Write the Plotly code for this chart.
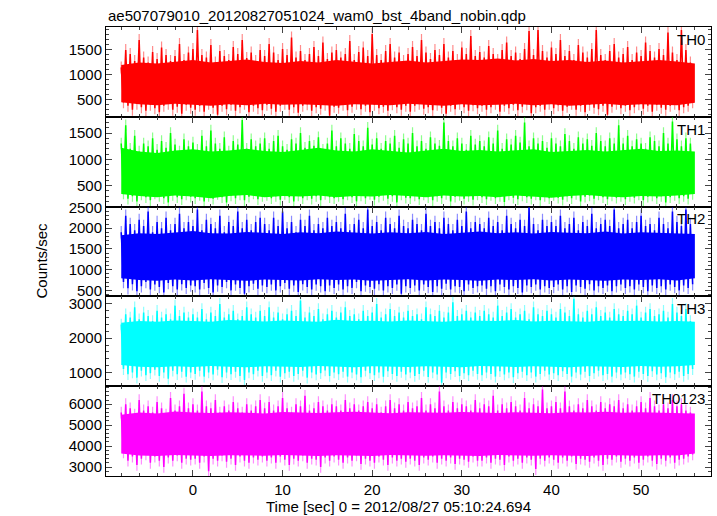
import numpy as np
import plotly.graph_objects as go
from plotly.subplots import make_subplots

TITLE = "ae507079010_20120827051024_wam0_bst_4band_nobin.qdp"
X_LABEL = "Time [sec] 0 = 2012/08/27 05:10:24.694"
Y_LABEL = "Counts/sec"
BANDS = ["TH0", "TH1", "TH2", "TH3", "TH0123"]
TIME_START = -8.0     # first time bin [sec]
SAMPLE_STEP = 0.25    # spacing of the read-off peak/dip samples [sec]
CORE_STEP = 2.0       # spacing of the read-off dense-band edges [sec]

# Read-off values, alternating local peaks and local dips every 0.5 s
th0_peak = [1150,1500,1420,1280,1700,1350,1250,1460,1320,1550,1400,1280,1380,1620,1300,1450,
            1520,1900,1400,1350,1600,1250,1480,1380,1300,1560,1420,1700,1340,1450,1280,1500,
            1380,1620,1450,1300,1520,1400,1750,1350,1480,1300,1420,1560,1380,1650,1320,1450,
            1500,1350,1420,1680,1300,1460,1550,1380,1820,1400,1300,1480,1620,1350,1450,1280,
            1420,1560,1380,1700,1450,1320,1500,1400,1620,1350,1480,1300,1550,1420,1780,1380,
            1460,1350,1580,1420,1300,1500,1650,1380,1450,1320,1520,1880,1400,1900,1480,1350,
            1550,1420,1700,1380,1480,1300,1600,1450,1350,1520,1900,1400,1300,1480,1620,1350,
            1420,1560,1300,1450,1380,1650,1480,1350,1520,1400,1850,1450,1300,1900,1500,1250]
th0_dip = [450,380,300,420,350,280,400,330,250,380,420,300,360,220,400,340,
           300,380,260,420,340,200,380,310,400,280,350,420,250,380,330,290,
           400,320,260,380,420,300,350,240,380,410,280,350,320,400,180,360,
           340,400,290,360,420,310,380,250,400,330,360,280,410,350,300,380,
           260,380,420,320,350,290,400,340,220,380,310,420,350,280,390,330,
           380,300,350,420,260,380,330,400,290,360,410,230,350,380,300,420,
           330,390,280,360,420,300,380,250,400,340,310,380,200,360,420,330,
           380,290,350,410,320,380,260,400,340,300,380,420,290,350,380,450]

th1_peak = [1300,1650,1200,1450,1150,1300,1250,1400,1180,1350,1220,1500,1280,1150,1380,1250,
            1320,1180,1450,1250,1550,1300,1200,1420,1150,1350,1280,1750,1200,1380,1250,1300,
            1400,1200,1350,1450,1250,1180,1380,1300,1500,1220,1350,1260,1420,1180,1300,1550,
            1250,1400,1300,1200,1480,1350,1250,1600,1280,1400,1200,1350,1300,1450,1220,1380,
            1300,1500,1250,1350,1200,1420,1300,1260,1700,1350,1250,1400,1300,1180,1450,1280,
            1350,1250,1420,1300,1550,1200,1380,1280,1450,1320,1700,1250,1400,1300,1350,1220,
            1400,1300,1250,1480,1350,1200,1420,1300,1380,1260,1500,1350,1250,1400,1300,1650,
            1300,1450,1250,1380,1300,1200,1420,1350,1250,1500,1300,1720,1380,1250,1400,1300]
th1_dip = [350,250,300,200,330,280,220,350,300,260,180,320,280,240,330,290,
           260,320,200,300,250,340,280,180,310,260,330,220,290,350,240,300,
           320,260,300,230,340,280,200,310,260,330,250,300,220,340,280,260,
           300,240,330,280,200,310,260,340,230,290,320,250,300,180,330,270,
           260,310,240,330,280,220,300,260,340,200,290,320,250,300,230,330,
           280,240,320,260,300,190,330,270,240,310,280,250,330,220,300,260,
           320,270,230,300,260,340,200,290,310,250,330,280,240,310,270,300,
           240,300,270,330,220,290,310,260,300,180,280,320,260,300,250,340]

th2_peak = [1900,2300,2100,1950,2200,2050,2400,1900,2150,2000,2250,1950,2100,2350,2000,2150,
            2050,2450,1950,2200,2100,2000,2300,1900,2150,2050,2400,2000,2200,1950,2150,2250,
            2100,1950,2250,2050,2400,2000,2150,1900,2200,2050,2300,1950,2100,2000,2250,2050,
            2150,2000,2350,1950,2100,2200,2000,2450,2050,2150,1950,2250,2100,2000,2300,2050,
            2000,2200,2100,1950,2350,2050,2150,2000,2250,2100,1950,2200,2050,2400,2000,2150,
            2100,2000,2250,2050,2150,1950,2300,2100,2000,2200,2050,2500,2100,1950,2200,2050,
            2150,2050,2300,2000,2100,2250,1950,2150,2050,2350,2000,2100,2200,2050,2450,2000,
            2100,2200,2000,2150,2300,2050,2100,1950,2250,2100,2000,2400,2150,2050,2450,2100]
th2_dip = [700,550,650,480,600,700,520,640,580,450,680,600,520,650,560,620,
           600,520,680,560,450,620,580,700,500,640,560,420,600,660,540,620,
           580,640,500,600,680,540,620,460,650,580,520,640,600,480,620,560,
           640,520,600,560,700,480,620,580,540,650,500,600,560,640,420,600,
           560,620,500,640,580,460,600,540,660,520,600,580,480,640,560,600,
           620,540,600,480,640,580,520,600,560,450,620,580,640,520,600,560,
           580,640,520,600,460,620,580,540,650,500,600,560,620,480,600,640,
           560,600,520,640,580,480,620,560,600,520,640,580,500,620,560,650]

th3_peak = [2400,2700,2600,2900,2550,2750,2650,2500,2800,2600,2700,2550,2950,2650,2750,2600,
            2700,2600,2850,2550,2750,2650,3000,2600,2700,2800,2550,2650,2900,2700,2600,2800,
            2650,2900,2600,2750,2550,2700,2800,2650,3100,2600,2750,2650,2850,2550,2700,2800,
            2600,2750,2900,2650,2700,2550,2800,2650,2750,3000,2600,2700,2850,2650,2750,2600,
            2800,2650,2700,2550,2900,2700,2650,2800,2600,2750,3050,2650,2700,2800,2600,2750,
            2650,2800,2700,2600,2950,2650,2750,2850,2600,2700,2800,2550,2900,2700,2650,2800,
            2700,2600,2850,2750,2650,3150,2700,2600,2800,2700,2900,2650,2750,2600,2850,2700,
            2650,2800,2700,2950,2600,2750,2850,2650,2700,2800,2600,3000,2750,2650,2850,2500]
th3_dip = [1100,950,1000,850,1050,920,980,1080,900,1000,820,1050,950,1020,880,1000,
           960,1050,880,1000,940,1080,860,1000,950,1020,900,780,1000,950,1050,900,
           1000,920,1050,880,980,1020,900,960,1050,850,1000,940,980,1060,900,1000,
           950,1020,880,1000,940,860,1050,980,920,1000,880,1040,960,900,1020,940,
           1000,900,960,1050,870,1000,940,700,1000,960,1040,900,980,920,1050,960,
           920,1000,960,880,1040,940,1000,860,980,1020,920,1000,880,960,1050,940,
           980,920,1040,960,880,1000,940,1020,900,980,1050,920,960,880,1000,940,
           1000,950,880,1020,960,900,1040,940,980,860,1000,950,1020,900,960,1100]

th0123_peak = [5600,6000,5800,5500,6200,5700,5900,5600,6100,5800,5500,6300,5700,5900,6500,5800,
               6000,5700,6600,5900,5800,6200,5600,5900,5700,6100,5800,5600,6000,5700,5900,6200,
               5800,6100,5700,5900,6300,5800,5600,6000,5900,6400,5700,5800,6100,5900,5700,6000,
               5900,5700,6200,5800,6000,5700,5900,6100,5800,6000,5600,5900,6200,5800,6000,5700,
               6100,5800,5900,6300,5700,6000,5800,6600,5900,5700,6100,5800,6000,5900,5700,6200,
               5800,6000,5900,6400,5700,6000,5800,6100,5900,5700,6300,5800,6000,5900,6700,5800,
               5900,6100,5800,6600,5900,5700,6000,5800,6200,5900,5700,6100,5800,6000,5900,6200,
               5800,6000,5700,5900,6100,5800,6300,5900,5700,6000,5800,6200,5900,6000,5700,5600]
th0123_dip = [3700,3300,3500,3100,3400,3600,3200,3500,3300,3000,3450,3300,3550,3200,3400,3350,
              3400,3200,3500,2800,3400,3300,3550,3250,3400,3100,3500,3300,3200,3450,3350,3500,
              3300,3450,3200,3500,3350,3100,3400,3300,3550,3200,3400,3350,3000,3450,3300,3500,
              3350,3200,3450,3300,3550,3150,3400,3300,3200,3500,3350,3100,3450,3300,3400,3250,
              3400,3300,3100,3450,3350,3500,3200,3400,3300,3450,3150,3400,3350,3250,3500,3300,
              3300,3450,3200,3400,3350,3100,3500,3300,3400,3200,3450,3350,2900,3400,3300,3450,
              3350,3200,3450,3300,3500,3150,3400,3350,3250,3450,3300,3100,3400,3350,3500,3250,
              3400,3300,3450,3200,3350,3500,3300,3150,3400,3300,3450,3200,3350,3400,3500,3600]

# Read-off edges of the densely filled part of each light curve, every 2 s
th0_core_hi = [1200,1250,1230,1270,1300,1250,1280,1310,1260,1240,1280,1250,1300,1270,1230,1260,1290,
               1250,1280,1310,1300,1330,1290,1320,1280,1300,1260,1290,1250,1280,1300,1270,1230]
th0_core_lo = [450,410,390,420,400,380,410,390,420,400,410,390,380,410,400,390,420,
               400,380,410,390,400,420,390,410,380,400,420,390,410,400,390,440]
th1_core_hi = [1220,1150,1120,1170,1190,1150,1170,1200,1160,1140,1180,1220,1170,1150,1190,1160,1130,
               1170,1200,1160,1180,1150,1170,1190,1140,1160,1180,1150,1170,1200,1160,1170,1150]
th1_core_lo = [340,300,280,310,290,260,300,320,280,300,290,310,280,300,290,320,300,
               280,310,290,300,280,310,290,270,300,320,290,280,300,290,310,340]
th2_core_hi = [1830,1880,1860,1900,1930,1880,1870,1910,1890,1860,1900,1880,1920,1890,1870,1900,1880,
               1910,1860,1890,1920,1880,1900,1870,1910,1890,1880,1920,1870,1900,1890,1880,1860]
th2_core_lo = [790,750,730,760,740,770,750,730,760,750,740,770,750,760,730,750,770,
               740,760,750,730,760,750,770,740,760,750,730,760,750,770,740,790]
th3_core_hi = [2450,2500,2480,2520,2500,2480,2530,2510,2490,2520,2500,2480,2540,2500,2510,2490,2520,
               2500,2480,2520,2510,2500,2530,2490,2510,2500,2480,2520,2500,2510,2490,2500,2480]
th3_core_lo = [1220,1170,1150,1180,1160,1190,1170,1150,1180,1170,1160,1190,1170,1150,1180,1170,1160,
               1180,1170,1150,1190,1170,1160,1180,1170,1150,1180,1170,1160,1190,1170,1180,1220]
th0123_core_hi = [5500,5600,5550,5650,5600,5580,5620,5600,5560,5630,5600,5580,5610,5640,5600,5570,5620,
                  5600,5590,5630,5600,5580,5620,5600,5570,5610,5600,5640,5590,5610,5600,5580,5550]
th0123_core_lo = [3650,3550,3530,3570,3550,3520,3560,3550,3540,3570,3550,3530,3560,3550,3520,3570,3550,
                  3540,3560,3550,3530,3570,3550,3540,3560,3550,3520,3570,3550,3540,3560,3550,3650]

PEAKS = [th0_peak, th1_peak, th2_peak, th3_peak, th0123_peak]
DIPS = [th0_dip, th1_dip, th2_dip, th3_dip, th0123_dip]
CORE_HI = [th0_core_hi, th1_core_hi, th2_core_hi, th3_core_hi, th0123_core_hi]
CORE_LO = [th0_core_lo, th1_core_lo, th2_core_lo, th3_core_lo, th0123_core_lo]
ERRORS = [120, 110, 150, 170, 280]   # typical 1-sigma error per band

# styling
COLORS = ["#ff0000", "#00ff00", "#0000ff", "#00ffff", "#ff00ff"]
LIGHT = ["rgba(255,0,0,0.45)", "rgba(0,255,0,0.45)", "rgba(0,0,255,0.45)",
         "rgba(0,255,255,0.45)", "rgba(255,0,255,0.45)"]
Y_RANGES = [[160, 1960], [100, 1810], [355, 2520], [600, 3220], [2570, 6860]]
Y_DTICK = [500, 500, 500, 1000, 1000]
Y_MINOR = [100, 100, 100, 200, 200]
X_RANGE = [-9.7, 57.8]
FONT = "Liberation Sans, Arial, Helvetica, sans-serif"

fig = make_subplots(rows=5, cols=1, shared_xaxes=True, vertical_spacing=0)

for i in range(5):
    n = len(PEAKS[i])
    x_peak = TIME_START + 2 * SAMPLE_STEP * np.arange(n)
    x_dip = x_peak + SAMPLE_STEP
    x_core = TIME_START + CORE_STEP * np.arange(len(CORE_HI[i]))
    # dense band: fill between the read-off lower and upper edges
    fig.add_trace(go.Scatter(x=x_core, y=CORE_LO[i], mode="lines",
                             line=dict(color=COLORS[i], width=0),
                             showlegend=False, hoverinfo="skip"), row=i + 1, col=1)
    fig.add_trace(go.Scatter(x=x_core, y=CORE_HI[i], mode="lines",
                             line=dict(color=COLORS[i], width=0),
                             fill="tonexty", fillcolor=COLORS[i],
                             showlegend=False, hoverinfo="skip"), row=i + 1, col=1)
    # the light curve itself: alternating peaks and dips with error bars
    ys, xs = [], []
    for k in range(n):
        xs.extend([x_peak[k], x_dip[k]])
        ys.extend([PEAKS[i][k], DIPS[i][k]])
    fig.add_trace(go.Scatter(
        x=xs, y=ys, mode="lines",
        line=dict(color=COLORS[i], width=1.5),
        error_y=dict(type="constant", value=ERRORS[i], color=LIGHT[i],
                     thickness=1.2, width=0),
        showlegend=False, hoverinfo="skip"), row=i + 1, col=1)

    fig.update_yaxes(range=Y_RANGES[i], dtick=Y_DTICK[i], tick0=0,
                     ticks="inside", ticklen=6, tickwidth=1, tickcolor="#444",
                     minor=dict(dtick=Y_MINOR[i], ticks="inside", ticklen=3,
                                tickcolor="#444"),
                     showline=True, linecolor="black", linewidth=1, mirror="ticks",
                     showgrid=False, zeroline=False,
                     tickfont=dict(family=FONT, size=15, color="black"),
                     row=i + 1, col=1)
    fig.update_xaxes(range=X_RANGE, dtick=10, tick0=0,
                     ticks="inside", ticklen=6, tickwidth=1, tickcolor="#444",
                     minor=dict(dtick=2, ticks="inside", ticklen=3, tickcolor="#444"),
                     showline=True, linecolor="black", linewidth=1, mirror="ticks",
                     showgrid=False, zeroline=False,
                     showticklabels=(i == 4),
                     tickfont=dict(family=FONT, size=15, color="black"),
                     row=i + 1, col=1)

    axn = "" if i == 0 else str(i + 1)
    fig.add_annotation(text=BANDS[i], xref="x%s domain" % axn, yref="y%s domain" % axn,
                       x=0.993, y=0.98, xanchor="right", yanchor="top", showarrow=False,
                       font=dict(family=FONT, size=15, color="black"))

fig.add_annotation(text=TITLE, xref="paper", yref="paper", x=0, y=1,
                   xanchor="left", yanchor="bottom", yshift=1, showarrow=False,
                   font=dict(family=FONT, size=15, color="black"))
fig.add_annotation(text=X_LABEL, xref="paper", yref="paper", x=0.483, y=0,
                   xanchor="center", yanchor="top", yshift=-20, showarrow=False,
                   font=dict(family=FONT, size=15, color="black"))
fig.add_annotation(text=Y_LABEL, xref="paper", yref="paper", x=0, y=0.48,
                   xanchor="center", yanchor="middle", xshift=-65, textangle=-90,
                   showarrow=False, font=dict(family=FONT, size=15, color="black"))

fig.update_layout(width=717, height=516,
                  margin=dict(l=106, r=6, t=27, b=40),
                  plot_bgcolor="white", paper_bgcolor="white",
                  font=dict(family=FONT, size=15, color="black"))

fig.write_html("out.html", config={"displayModeBar": False},
               post_script="document.body.style.margin='0';document.body.style.padding='0';")
